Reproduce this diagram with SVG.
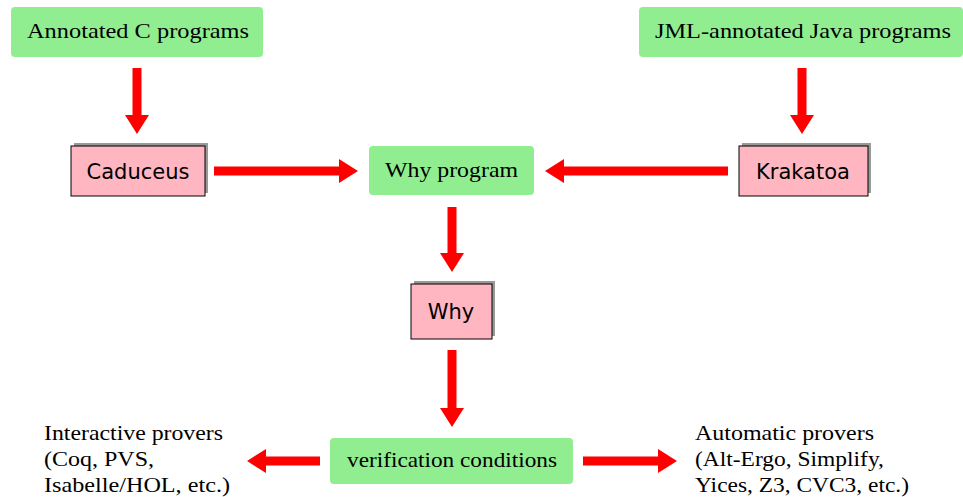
<svg xmlns="http://www.w3.org/2000/svg" width="963" height="497" viewBox="0 0 963 497">
<style>
.g{fill:#90EE90}
.p{fill:#FFB6C1;stroke:#000;stroke-width:1}
.sh{fill:#999}
.t{font-family:"Liberation Serif",serif;font-size:21px;fill:#000}
.s{font-family:"DejaVu Sans","Liberation Sans",sans-serif;font-size:21px;fill:#000}
.a{fill:#FF0000}
</style>
<rect width="963" height="497" fill="#fff"/>
<g id="annotated-c">
<rect class="g" x="11" y="7" width="252" height="50" rx="4"/>
<text class="t" x="27" y="38" textLength="222" lengthAdjust="spacingAndGlyphs">Annotated C programs</text>
</g>
<g id="jml-java">
<rect class="g" x="639" y="7" width="324" height="50" rx="4"/>
<text class="t" x="655" y="38" textLength="296" lengthAdjust="spacingAndGlyphs">JML-annotated Java programs</text>
</g>
<g id="caduceus">
<rect class="sh" x="74" y="143" width="134" height="50"/>
<rect class="p" x="71" y="146" width="134" height="50"/>
<text class="s" x="138" y="179" text-anchor="middle">Caduceus</text>
</g>
<g id="krakatoa">
<rect class="sh" x="742" y="143" width="129" height="50"/>
<rect class="p" x="739" y="146" width="129" height="50"/>
<text class="s" x="803" y="179" text-anchor="middle">Krakatoa</text>
</g>
<g id="why-program">
<rect class="g" x="369" y="146" width="165" height="49" rx="4"/>
<text class="t" x="385" y="177" textLength="133" lengthAdjust="spacingAndGlyphs">Why program</text>
</g>
<g id="why">
<rect class="sh" x="414" y="281" width="81" height="55"/>
<rect class="p" x="411" y="284" width="81" height="55"/>
<text class="s" x="451" y="319" text-anchor="middle">Why</text>
</g>
<g id="vc">
<rect class="g" x="330" y="438" width="243" height="46" rx="4"/>
<text class="t" x="347" y="467" textLength="210" lengthAdjust="spacingAndGlyphs">verification conditions</text>
</g>
<g id="interactive">
<text class="t" x="44" y="440" textLength="179" lengthAdjust="spacingAndGlyphs">Interactive provers</text>
<text class="t" x="44" y="466" textLength="110" lengthAdjust="spacingAndGlyphs">(Coq, PVS,</text>
<text class="t" x="44" y="492" textLength="186" lengthAdjust="spacingAndGlyphs">Isabelle/HOL, etc.)</text>
</g>
<g id="automatic">
<text class="t" x="695" y="440" textLength="179" lengthAdjust="spacingAndGlyphs">Automatic provers</text>
<text class="t" x="695" y="466" textLength="189" lengthAdjust="spacingAndGlyphs">(Alt-Ergo, Simplify,</text>
<text class="t" x="695" y="492" textLength="214" lengthAdjust="spacingAndGlyphs">Yices, Z3, CVC3, etc.)</text>
</g>
<g id="connectors">
<polygon class="a" points="132.5,68 141.5,68 141.5,115 149,115 137,134 125,115 132.5,115"/>
<polygon class="a" points="797.5,68 806.5,68 806.5,115 814,115 802,134 790,115 797.5,115"/>
<polygon class="a" points="214,166.5 339,166.5 339,159 358,171 339,183 339,175.5 214,175.5"/>
<polygon class="a" points="728,166.5 564,166.5 564,159 545,171 564,183 564,175.5 728,175.5"/>
<polygon class="a" points="447.5,207 456.5,207 456.5,253 464,253 452,272 440,253 447.5,253"/>
<polygon class="a" points="447.5,350 456.5,350 456.5,408 464,408 452,427 440,408 447.5,408"/>
<polygon class="a" points="320,456.5 266,456.5 266,449 247,461 266,473 266,465.5 320,465.5"/>
<polygon class="a" points="583,456.5 658,456.5 658,449 677,461 658,473 658,465.5 583,465.5"/>
</g>
</svg>
